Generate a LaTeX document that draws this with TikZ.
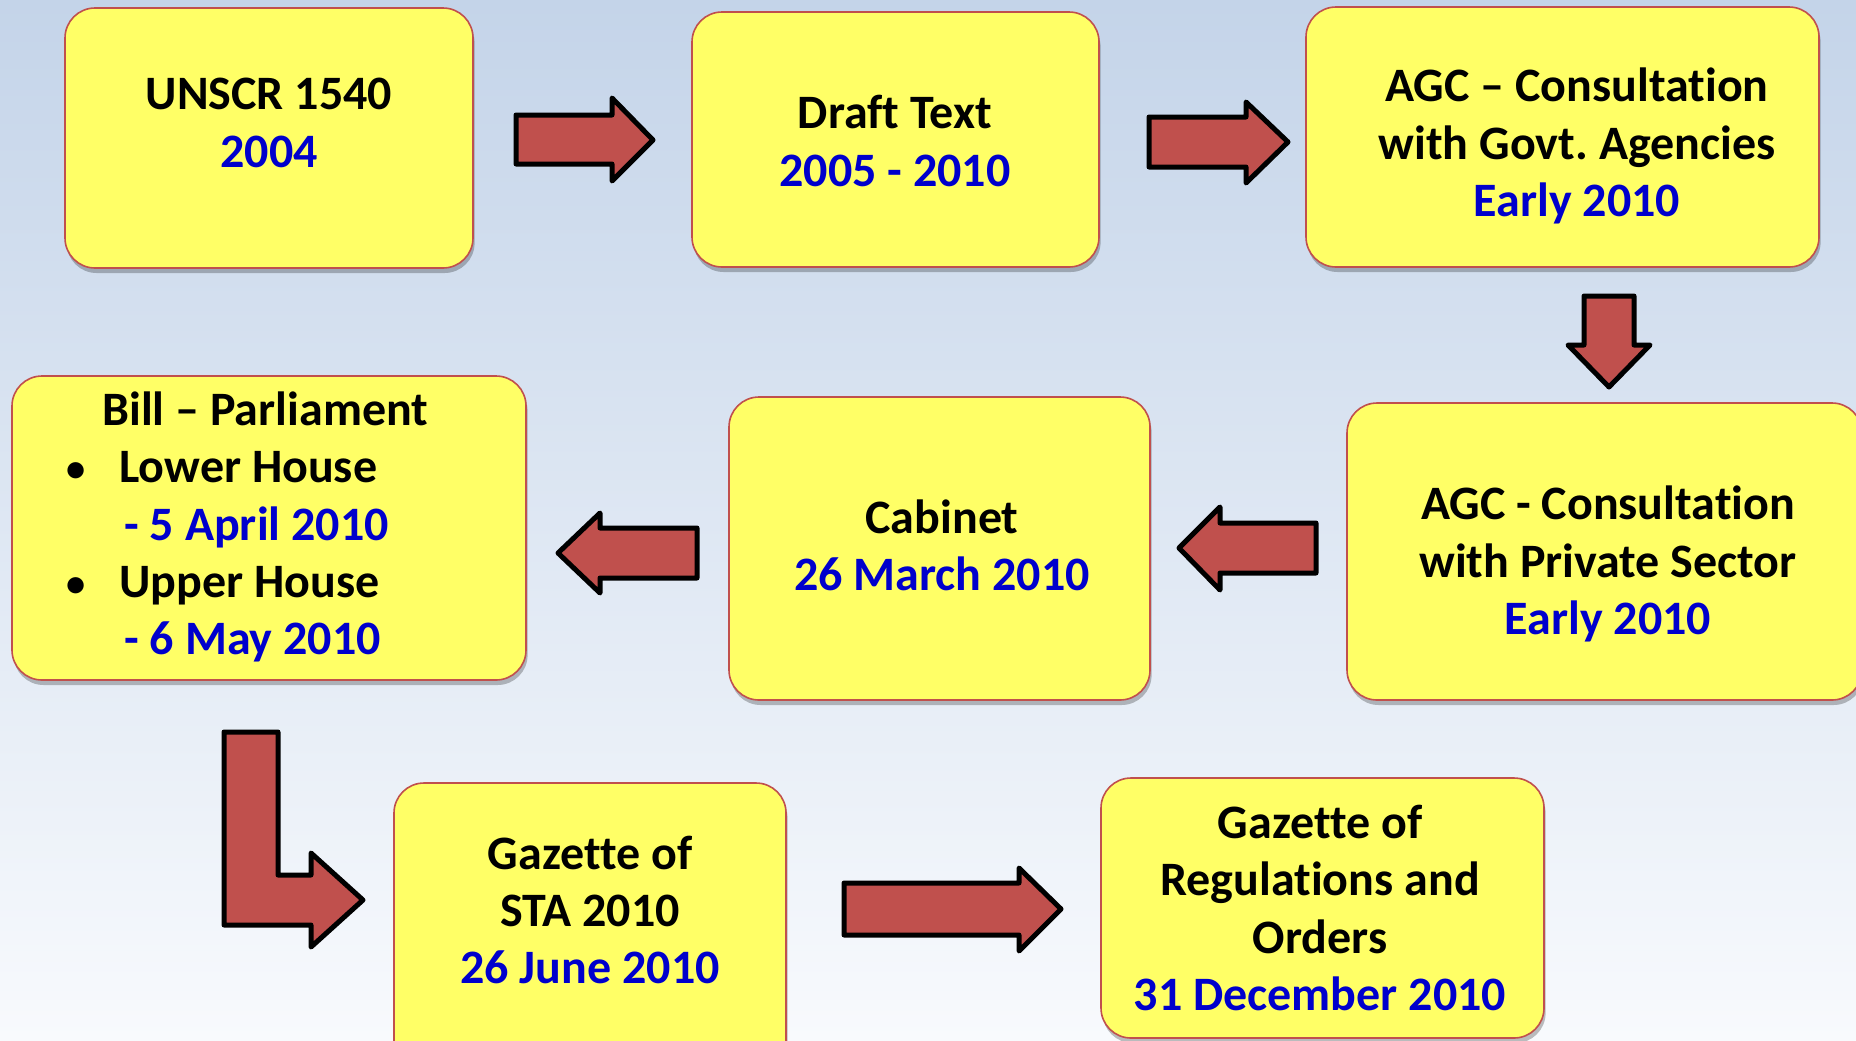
\documentclass[tikz,border=0pt]{standalone}
\usepackage{fontspec}
\setmainfont{Carlito}[Ligatures={NoCommon}]
\usetikzlibrary{shadows,fit}
\definecolor{boxfill}{HTML}{FFFF66}
\definecolor{boxline}{HTML}{C0504D}
\definecolor{arrowfill}{HTML}{C0504D}
\definecolor{datecol}{RGB}{0,0,204}
\definecolor{bgtop}{HTML}{C4D4E9}
\definecolor{bgbot}{HTML}{F8FAFD}
\newcommand{\dt}[1]{\textcolor{datecol}{#1}}
\newcommand{\bul}{\makebox[26.5pt][l]{\raisebox{0.5pt}{\scalebox{0.8}{•}}}}
\frenchspacing
\begin{document}
\begin{tikzpicture}[x=0.5pt,y=-0.5pt,
  box/.style={draw=boxline, line width=0.8pt, fill=boxfill, rounded corners=15pt, inner sep=0pt,
    drop shadow={shadow xshift=0.8pt, shadow yshift=-2.5pt, opacity=0.25, fill=black}},
  txt/.style={font=\bfseries\fontsize{24}{28.6}\selectfont, align=center, inner sep=0pt},
  blockarrow/.style={draw=black, fill=arrowfill, line width=2.5pt, line join=round}]
\useasboundingbox (0,0) rectangle (1856,1040);
\shade[top color=bgtop, bottom color=bgbot] (0,0) rectangle (1856,1040);
\clip (0,0) rectangle (1856,1040);

% boxes
\node[box, fit={(65,8) (473,268)}] (b1) {};
\node[box, fit={(692,12) (1099,267)}] (b2) {};
\node[box, fit={(1306,7) (1819,267)}] (b3) {};
\node[box, fit={(1347,403) (1862,700)}] (b4) {};
\node[box, fit={(729,397) (1150,700)}] (b5) {};
\node[box, fit={(12,376) (526,680)}] (b6) {};
\node[box, fit={(394,783) (786,1070)}] (b7) {};
\node[box, fit={(1101,778) (1544,1038)}] (b8) {};

% texts
\node[txt] (t1) at (269,123) {UNSCR 1540\\\dt{2004}};
\node[txt] (t2) at (895,141) {Draft Text\\\dt{2005 - 2010}};
\node[txt] (t3) at (1577,146) {AGC – Consultation\\with Govt. Agencies\\\dt{Early 2010}};
\node[txt] (t4) at (1608,564) {AGC - Consultation\\with Private Sector\\\dt{Early 2010}};
\node[txt] (t5) at (942,545) {Cabinet\\\dt{26 March 2010}};
\node[txt, align=left, anchor=west] (t6) at (66,527) {\hspace*{18pt}Bill – Parliament\\
  \bul Lower House\\
  \hspace*{29pt}\dt{- 5 April 2010}\\
  \bul Upper House\\
  \hspace*{29pt}\dt{- 6 May 2010}};
\node[txt] (t7) at (590,910) {Gazette of\\STA 2010\\\dt{26 June 2010}};
\node[txt] (t8) at (1320,908) {Gazette of\\Regulations and\\Orders\\\dt{31 December 2010}};

% block arrows
\draw[blockarrow] (516,115) -- (612,115) -- (612,98) -- (653,140) -- (612,181) -- (612,164) -- (516,164) -- cycle;
\draw[blockarrow] (1149,117) -- (1246,117) -- (1246,102) -- (1288,142) -- (1246,183) -- (1246,167) -- (1149,167) -- cycle;
\draw[blockarrow] (1584,296) -- (1634,296) -- (1634,345) -- (1650,345) -- (1609,387) -- (1568,345) -- (1584,345) -- cycle;
\draw[blockarrow] (1316,523) -- (1220,523) -- (1220,507) -- (1179,548) -- (1220,590) -- (1220,573) -- (1316,573) -- cycle;
\draw[blockarrow] (697,528) -- (600,528) -- (600,513) -- (558,553) -- (600,593) -- (600,578) -- (697,578) -- cycle;
\draw[blockarrow] (224,732) -- (278,732) -- (278,875) -- (311,875) -- (311,853) -- (363,900) -- (311,947) -- (311,925) -- (224,925) -- cycle;
\draw[blockarrow] (844,883) -- (1019,883) -- (1019,868) -- (1061,909) -- (1019,951) -- (1019,935) -- (844,935) -- cycle;
\end{tikzpicture}
\end{document}
